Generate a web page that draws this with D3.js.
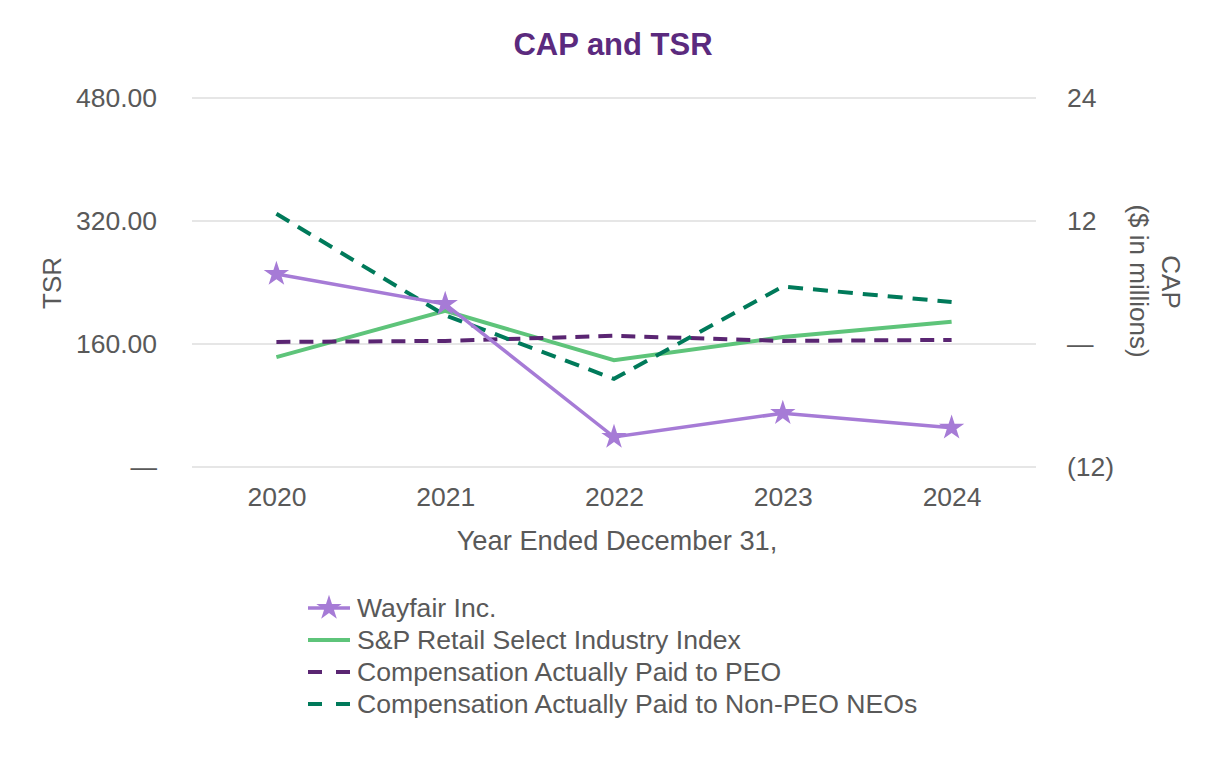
<!DOCTYPE html>
<html>
<head>
<meta charset="utf-8">
<script src="https://cdn.jsdelivr.net/npm/d3@7"></script>
<style>
  body { margin: 0; background: #fff; }
  text { font-family: "Liberation Sans", Arial, sans-serif; }
</style>
</head>
<body>
<div id="chart"></div>
<script>
var years = ["2020", "2021", "2022", "2023", "2024"];
var wayfair = [251, 212, 39, 70, 51];            // TSR, left axis
var spRetail = [143, 203, 139, 169, 189];        // TSR, left axis
var capPeo = [0.2, 0.3, 0.8, 0.3, 0.4];          // $M, right axis
var capNonPeo = [12.7, 2.8, -3.4, 5.6, 4.1];     // $M, right axis
var leftTicks = [0, 160, 320, 480];
var rightTicks = [-12, 0, 12, 24];
var seriesNames = ["Wayfair Inc.", "S&P Retail Select Industry Index",
                   "Compensation Actually Paid to PEO", "Compensation Actually Paid to Non-PEO NEOs"];

var canvasWidth = 1226;
var canvasHeight = 760;
var margin = {top: 98, bottom: 293, left: 192, right: 190};
var width = canvasWidth - margin.left - margin.right;
var height = canvasHeight - margin.top - margin.bottom;
var textColor = "#595959";

var svg = d3.select("#chart")
    .append("svg")
    .attr("width", canvasWidth)
    .attr("height", canvasHeight);

// title
svg.append("text")
    .attr("x", 613)
    .attr("y", 55)
    .attr("text-anchor", "middle")
    .style("font-size", "31px")
    .style("font-weight", "bold")
    .style("fill", "#5b2a7e")
    .text("CAP and TSR");

var plot = svg.append("g")
    .attr("transform", "translate(" + margin.left + "," + margin.top + ")");

var x = d3.scalePoint()
    .domain(years)
    .range([0, width])
    .padding(0.5);
var yL = d3.scaleLinear().domain([0, 480]).range([height, 0]);
var yR = d3.scaleLinear().domain([-12, 24]).range([height, 0]);

// grid
plot.append("g")
    .selectAll("line")
    .data(leftTicks)
    .enter()
    .append("line")
    .attr("x1", 0)
    .attr("x2", width)
    .attr("y1", function (d) { return yL(d); })
    .attr("y2", function (d) { return yL(d); })
    .style("stroke", "#e6e6e6")
    .style("stroke-width", 2);

// left axis
var leftAxis = plot.append("g")
    .attr("transform", "translate(-32,0)")
    .call(d3.axisLeft(yL).tickValues(leftTicks).tickSize(0)
        .tickFormat(function (d) { return d === 0 ? "\u2014" : d3.format(".2f")(d); }));
// right axis
var rightAxis = plot.append("g")
    .attr("transform", "translate(" + (width + 28) + ",0)")
    .call(d3.axisRight(yR).tickValues(rightTicks).tickSize(0)
        .tickFormat(function (d) { return d === 0 ? "\u2014" : d < 0 ? "(" + (-d) + ")" : d; }));
// bottom axis
var bottomAxis = plot.append("g")
    .attr("transform", "translate(0," + (height + 17) + ")")
    .call(d3.axisBottom(x).tickSize(0));

[leftAxis, rightAxis, bottomAxis].forEach(function (a) {
    a.select(".domain").remove();
    a.selectAll("text")
        .style("font-size", "26.5px")
        .style("fill", textColor)
        .style("font-family", "'Liberation Sans', Arial, sans-serif");
});

// axis titles
svg.append("text")
    .attr("transform", "translate(61,283) rotate(-90)")
    .attr("text-anchor", "middle")
    .style("font-size", "26px")
    .style("fill", textColor)
    .text("TSR");
svg.append("text")
    .attr("transform", "translate(1162,282) rotate(90)")
    .attr("text-anchor", "middle")
    .style("font-size", "26px")
    .style("fill", textColor)
    .text("CAP");
svg.append("text")
    .attr("transform", "translate(1130,281) rotate(90)")
    .attr("text-anchor", "middle")
    .style("font-size", "26px")
    .style("fill", textColor)
    .text("($ in millions)");
svg.append("text")
    .attr("x", 617)
    .attr("y", 550)
    .attr("text-anchor", "middle")
    .style("font-size", "27.3px")
    .style("fill", textColor)
    .text("Year Ended December 31,");

// lines
var lineL = d3.line()
    .x(function (d, i) { return x(years[i]); })
    .y(function (d) { return yL(d); });
var lineR = d3.line()
    .x(function (d, i) { return x(years[i]); })
    .y(function (d) { return yR(d); });

var styles = [
    {color: "#a67bd6", width: 3.5, dash: null},
    {color: "#5ec47a", width: 4, dash: null},
    {color: "#5a2572", width: 4, dash: "14,9"},
    {color: "#007a5a", width: 4, dash: "15,10"}
];

plot.append("path").datum(spRetail)
    .attr("d", lineL)
    .style("fill", "none")
    .style("stroke", styles[1].color)
    .style("stroke-width", styles[1].width);
plot.append("path").datum(capPeo)
    .attr("d", lineR)
    .style("fill", "none")
    .style("stroke", styles[2].color)
    .style("stroke-width", styles[2].width)
    .style("stroke-dasharray", styles[2].dash);
plot.append("path").datum(capNonPeo)
    .attr("d", lineR)
    .style("fill", "none")
    .style("stroke", styles[3].color)
    .style("stroke-width", styles[3].width)
    .style("stroke-dasharray", styles[3].dash);
plot.append("path").datum(wayfair)
    .attr("d", lineL)
    .style("fill", "none")
    .style("stroke", styles[0].color)
    .style("stroke-width", styles[0].width);

var star = d3.symbol().type(d3.symbolStar).size(200);
plot.append("g")
    .selectAll("path")
    .data(wayfair)
    .enter()
    .append("path")
    .attr("d", star)
    .attr("transform", function (d, i) { return "translate(" + x(years[i]) + "," + yL(d) + ")"; })
    .style("fill", styles[0].color);

// legend
var legend = svg.append("g")
    .attr("transform", "translate(308,608)");
var rows = legend.selectAll("g")
    .data(seriesNames)
    .enter()
    .append("g")
    .attr("transform", function (d, i) { return "translate(0," + (i * 32) + ")"; });
rows.append("line")
    .attr("x1", 0)
    .attr("x2", 42)
    .style("stroke", function (d, i) { return styles[i].color; })
    .style("stroke-width", function (d, i) { return styles[i].width; })
    .style("stroke-dasharray", function (d, i) { return styles[i].dash ? "14,14" : null; });
rows.filter(function (d, i) { return i === 0; })
    .append("path")
    .attr("d", star)
    .attr("transform", "translate(21,0)")
    .style("fill", styles[0].color);
rows.append("text")
    .attr("x", 49)
    .attr("dy", "0.35em")
    .style("font-size", "26.6px")
    .style("fill", textColor)
    .text(function (d) { return d; });
</script>
</body>
</html>
